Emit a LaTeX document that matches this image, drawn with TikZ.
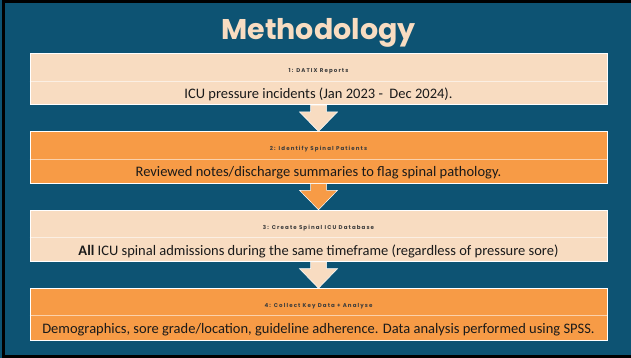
\documentclass[tikz,border=0pt]{standalone}
\usepackage{fontspec}
\setmainfont{Carlito}
\newfontfamily\titlefont{Poppins}
\newfontfamily\headfont[LetterSpace=20]{Poppins}
\usepackage{tikz}
\usetikzlibrary{positioning,calc}
\definecolor{cTeal}{HTML}{0D5373}
\definecolor{cPeach}{HTML}{F8DCC1}
\definecolor{cOrange}{HTML}{F79B46}
\definecolor{cInk}{HTML}{1A1A1A}

\begin{document}
\begin{tikzpicture}[x=1pt, y=-1pt,
  node distance=26.3pt,
  stage/.style={draw=white, line width=0.6pt, minimum width=577pt,
    minimum height=51.5pt, inner sep=0pt},
  headtext/.style={font=\headfont\bfseries\fontsize{5.5}{6}\selectfont,
    text=cInk!85},
  bodytext/.style={font=\fontsize{14.5}{16}\selectfont, text=cInk},
  divider/.style={draw=white, draw opacity=0.55, line width=0.6pt},
  flow/.style={draw=white, line width=0.5pt}]

  % background and frame
  \useasboundingbox (0,0) rectangle (631,358);
  \fill[cTeal] (0,0) rectangle (631,358);
  \draw[black, line width=3.5pt] (3.7,1.6) rectangle (640,356.4);

  \node[font=\titlefont\bfseries\fontsize{28.5}{32}\selectfont, text=cPeach,
    anchor=base] (title) at (318.5,40) {Methodology};

  % stages
  \node[stage, fill=cPeach] (s1) at (318.5,79.05) {};
  \node[stage, fill=cOrange, below=of s1] (s2) {};
  \node[stage, fill=cPeach, below=of s2] (s3) {};
  \node[stage, fill=cOrange, below=of s3] (s4) {};

  \draw[divider] ($(s1.north west)+(0,28.4)$) -- ($(s1.north east)+(0,28.4)$);
  \draw[divider] ($(s2.north west)+(0,27.6)$) -- ($(s2.north east)+(0,27.6)$);
  \draw[divider] ($(s3.north west)+(0,27.4)$) -- ($(s3.north east)+(0,27.4)$);
  \draw[divider] ($(s4.north west)+(0,26.6)$) -- ($(s4.north east)+(0,26.6)$);

  \node[headtext] (h1) at ($(s1.north)+(0,18.5)$) {1: DATIX Reports};
  \node[headtext] (h2) at ($(s2.north)+(0,18)$) {2: Identify Spinal Patients};
  \node[headtext] (h3) at ($(s3.north)+(0,18)$) {3: Create Spinal ICU Database};
  \node[headtext] (h4) at ($(s4.north)+(0,17.5)$) {4: Collect Key Data + Analyse};

  \node[bodytext] (b1) at ($(s1.south)+(0,-10.5)$)
    {ICU pressure incidents (Jan 2023 -\ \ Dec 2024).};
  \node[bodytext] (b2) at ($(s2.south)+(0,-10.5)$)
    {Reviewed notes/discharge summaries to flag spinal pathology.};
  \node[bodytext] (b3) at ($(s3.south)+(0,-10.5)$)
    {\textbf{All} ICU spinal admissions during the same timeframe (regardless of pressure sore)};
  \node[bodytext] (b4) at ($(s4.south)+(0,-10.5)$)
    {Demographics, sore grade/location, guideline adherence. Data analysis performed using SPSS.};

  % block arrows
  \draw[flow, fill=cPeach] ($(s1.south)+(-8,0)$) |- ($(s2.north)+(-19,-19.5)$)
    -- (s2.north) -- ($(s2.north)+(19,-19.5)$) -| ($(s1.south)+(8,0)$) -- cycle;
  \draw[flow, fill=cOrange] ($(s2.south)+(-8,0)$) |- ($(s3.north)+(-19,-19.5)$)
    -- (s3.north) -- ($(s3.north)+(19,-19.5)$) -| ($(s2.south)+(8,0)$) -- cycle;
  \draw[flow, fill=cPeach] ($(s3.south)+(-8,0)$) |- ($(s4.north)+(-19,-19.5)$)
    -- (s4.north) -- ($(s4.north)+(19,-19.5)$) -| ($(s3.south)+(8,0)$) -- cycle;
\end{tikzpicture}
\end{document}
